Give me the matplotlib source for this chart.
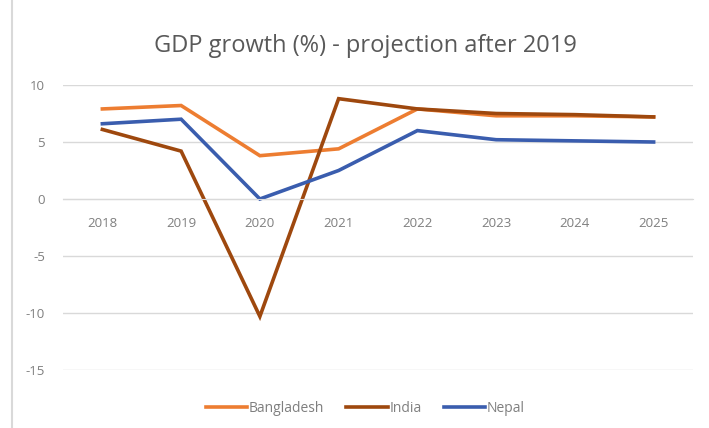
import matplotlib
matplotlib.use("Agg")
import matplotlib.pyplot as plt
from matplotlib.lines import Line2D

years = ["2018", "2019", "2020", "2021", "2022", "2023", "2024", "2025"]
bangladesh = [7.9, 8.2, 3.8, 4.4, 7.9, 7.3, 7.3, 7.2]
india = [6.1, 4.2, -10.3, 8.8, 7.9, 7.5, 7.4, 7.2]
nepal = [6.6, 7.0, 0.0, 2.5, 6.0, 5.2, 5.1, 5.0]
yticks = [10, 5, 0, -5, -10, -15]

plt.rcParams['font.family'] = ['Open Sans', 'DejaVu Sans']

fig = plt.figure(figsize=(7.09, 4.28), dpi=100)
ax = fig.add_axes([63/709, 58/428, 630/709, 285/428])

x = list(range(len(years)))
ax.plot(x, bangladesh, color='#ED7D31', lw=2.6, label='Bangladesh', solid_joinstyle='miter')
ax.plot(x, india, color='#9E480E', lw=2.6, label='India', solid_joinstyle='miter')
ax.plot(x, nepal, color='#3A5DAE', lw=2.6, label='Nepal', solid_joinstyle='miter')

ax.set_xlim(-0.5, 7.5)
ax.set_ylim(-15, 10)
ax.set_yticks(yticks)
ax.set_yticklabels([str(v) for v in yticks])
ax.grid(axis='y', color='#d9d9d9', lw=1)
ax.set_axisbelow(True)
for s in ['top', 'right', 'left']:
    ax.spines[s].set_visible(False)
ax.spines['bottom'].set_position(('data', 0))
ax.spines['bottom'].set_color('#d9d9d9')
ax.set_xticks(x)
ax.set_xticklabels(years)
ax.tick_params(axis='both', length=0, labelsize=9.5, labelcolor='#7f7f7f')
ax.tick_params(axis='x', pad=13)
ax.tick_params(axis='y', pad=13)

fig.text(0.515, 0.892, 'GDP growth (%) - projection after 2019', ha='center', va='center',
         fontsize=17, color='#595959')

leg = fig.legend(loc='center', bbox_to_anchor=(0.515, 0.045), ncol=3, frameon=False,
                 fontsize=10, labelcolor='#7f7f7f', handlelength=3.0, handletextpad=0.1,
                 columnspacing=1.6)

fig.add_artist(Line2D([12/709, 12/709], [0, 1], transform=fig.transFigure, color='#d9d9d9', lw=1.5))

fig.savefig('out.png', dpi=100)
